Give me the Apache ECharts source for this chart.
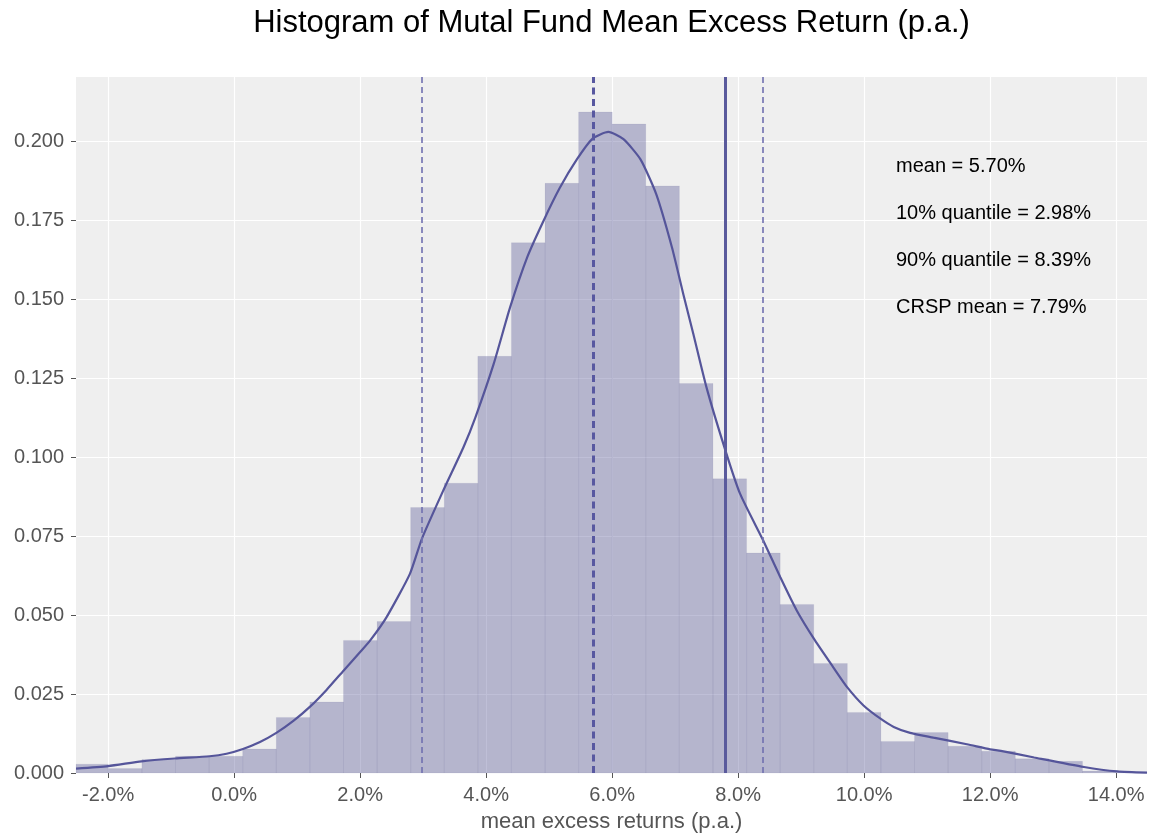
<!DOCTYPE html>
<html>
<head>
<meta charset="utf-8">
<script src="https://cdn.jsdelivr.net/npm/echarts@6/dist/echarts.min.js"></script>
<style>
  html, body { margin: 0; padding: 0; background: #ffffff; }
  #chart { width: 1153px; height: 836px; }
</style>
</head>
<body>
<div id="chart"></div>
<script>
// ---- data ----
const binStart = -2.53;      // left edge of first bin (% p.a.)
const binWidth = 0.5332;     // bin width (% p.a.)
const binHeights = [0.0028, 0.0014, 0.0043, 0.0053, 0.0053, 0.0076, 0.0176, 0.0225,
  0.0420, 0.0480, 0.0841, 0.0918, 0.1320, 0.1680, 0.1868, 0.2094,
  0.2056, 0.1860, 0.1234, 0.0932, 0.0697, 0.0534, 0.0347, 0.0192,
  0.0100, 0.0128, 0.0085, 0.0069, 0.0045, 0.0037, 0.0006, 0.0002];

const kdeX = [-2.51, -2.0, -1.47, -0.94, -0.39, -0.12, 0.14, 0.41, 0.67, 0.94, 1.21, 1.47, 1.74, 2.0,
  2.16, 2.42, 2.79, 2.98, 3.32, 3.64, 3.83, 4.12, 4.38, 4.65, 4.91, 5.17, 5.44, 5.69, 5.94, 6.18,
  6.45, 6.70, 6.95, 7.13, 7.29, 7.50, 7.79, 8.03, 8.40, 8.67, 8.93, 9.22, 9.51, 9.73, 9.99,
  10.26, 10.47, 10.73, 11.10, 11.63, 12.0, 12.17, 12.70, 13.49, 14.02, 14.49];
const kdeY = [0.0014, 0.0022, 0.0037, 0.0046, 0.0053, 0.0061, 0.0076, 0.0098, 0.0127, 0.0165, 0.0211, 0.0264, 0.0325, 0.0383,
  0.0420, 0.0494, 0.0631, 0.0742, 0.0895, 0.1032, 0.1127, 0.1296, 0.1475, 0.1633, 0.1749, 0.1854, 0.1944, 0.2010, 0.2031, 0.2008,
  0.1944, 0.1834, 0.1665, 0.1517, 0.1390, 0.1220, 0.1027, 0.0885, 0.0736, 0.0620, 0.0515, 0.0420, 0.0335, 0.0272, 0.0214,
  0.0172, 0.0146, 0.0127, 0.0112, 0.0091, 0.0075, 0.0070, 0.0049, 0.0019, 0.0005, 0.0001];

const meanValue = 5.70;
const q10Value = 2.98;
const q90Value = 8.39;
const crspMean = 7.79;

const xTicks = [-2, 0, 2, 4, 6, 8, 10, 12, 14];
const yTicks = [0, 0.025, 0.05, 0.075, 0.1, 0.125, 0.15, 0.175, 0.2];

const annotations = [
  'mean = 5.70%',
  '10% quantile = 2.98%',
  '90% quantile = 8.39%',
  'CRSP mean = 7.79%'
];

const titleText = 'Histogram of Mutal Fund Mean Excess Return (p.a.)';
const xAxisName = 'mean excess returns (p.a.)';

// ---- build ----
const histData = binHeights.map((h, i) => [binStart + i * binWidth, binStart + (i + 1) * binWidth, h]);
const kdeData = kdeX.map((x, i) => [x, kdeY[i]]);

const FONT = '"Liberation Sans", Arial, Helvetica, sans-serif';
const chart = echarts.init(document.getElementById('chart'), null, { renderer: 'canvas' });

const option = {
  animation: false,
  backgroundColor: '#ffffff',
  grid: {
    left: 76, right: 6, top: 77, bottom: 63,
    outerBoundsMode: 'none',
    containLabel: false,
    show: true, backgroundColor: '#efefef', borderWidth: 0
  },
  xAxis: {
    type: 'value',
    min: -2.51, max: 14.49,
    name: xAxisName,
    nameLocation: 'middle',
    nameGap: 38,
    nameTextStyle: { fontFamily: FONT, fontSize: 22, color: '#555555' },
    axisLine: { show: false, onZero: false },
    axisTick: { show: true, customValues: xTicks, length: 5, lineStyle: { color: '#555555', width: 1 } },
    axisLabel: { customValues: xTicks, margin: 12, fontFamily: FONT, fontSize: 20, color: '#555555',
      formatter: v => v.toFixed(1) + '%' },
    splitLine: { show: true, lineStyle: { color: '#ffffff', width: 1.2 } }
  },
  yAxis: {
    type: 'value',
    min: 0, max: 0.2205,
    axisLine: { show: false, onZero: false },
    axisTick: { show: true, customValues: yTicks, length: 5, lineStyle: { color: '#555555', width: 1 } },
    axisLabel: { customValues: yTicks, margin: 12, fontFamily: FONT, fontSize: 20, color: '#555555',
      formatter: v => v.toFixed(3) },
    splitLine: { show: true, lineStyle: { color: '#ffffff', width: 1.2 } }
  },
  series: [
    {
      type: 'custom',
      name: 'hist',
      data: histData,
      encode: { x: [0, 1], y: 2 },
      renderItem: function (params, api) {
        const p0 = api.coord([api.value(0), api.value(2)]);
        const p1 = api.coord([api.value(1), 0]);
        const shape = echarts.graphic.clipRectByRect(
          { x: p0[0], y: p0[1], width: p1[0] - p0[0], height: p1[1] - p0[1] },
          { x: params.coordSys.x, y: params.coordSys.y, width: params.coordSys.width, height: params.coordSys.height }
        );
        if (!shape) return null;
        return {
          type: 'rect',
          shape: shape,
          style: { fill: 'rgba(78,78,145,0.36)', stroke: 'rgba(78,78,145,0.12)', lineWidth: 0.6 }
        };
      },
      z: 2
    },
    {
      type: 'line',
      name: 'kde',
      data: kdeData,
      smooth: 0.2,
      showSymbol: false,
      symbol: 'none',
      lineStyle: { color: '#55559a', width: 2.2 },
      z: 4,
      markLine: {
        silent: true,
        symbol: ['none', 'none'],
        label: { show: false },
        data: [
          { xAxis: q10Value, lineStyle: { color: '#7070b0', width: 1.6, type: [6, 4] } },
          { xAxis: meanValue, lineStyle: { color: '#5858a0', width: 3, type: [7, 4.5] } },
          { xAxis: crspMean, lineStyle: { color: '#5a5a9c', width: 3, type: 'solid' } },
          { xAxis: q90Value, lineStyle: { color: '#7070b0', width: 1.6, type: [6, 4] } }
        ]
      }
    }
  ],
  graphic: [
    {
      type: 'text',
      x: 611.5,
      y: 23,
      z: 10,
      style: { text: titleText, fontFamily: FONT, fontSize: 31, fill: '#000000',
        textAlign: 'center', textVerticalAlign: 'middle' }
    }
  ].concat(annotations.map((t, i) => ({
    type: 'text',
    x: 896,
    y: 166.7 + i * 47,
    z: 10,
    style: { text: t, fontFamily: FONT, fontSize: 20, fill: '#000000', textVerticalAlign: 'middle' }
  })))
};

chart.setOption(option);
</script>
</body>
</html>
